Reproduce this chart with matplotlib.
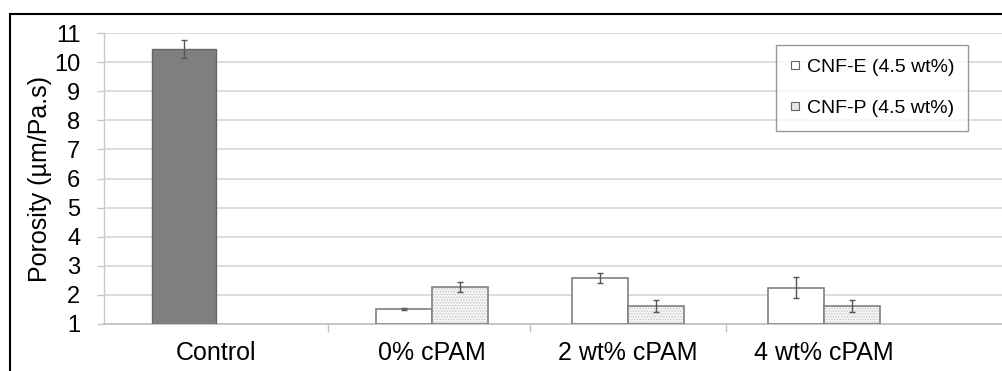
import matplotlib
matplotlib.use("Agg")
import matplotlib.pyplot as plt
from matplotlib.lines import Line2D
import numpy as np

plt.rcParams['font.family'] = ['Liberation Sans', 'DejaVu Sans']

# ---- data ----
categories = ["Control", "0% cPAM", "2 wt% cPAM", "4 wt% cPAM"]
control_value = 10.45
control_err = 0.32
cnf_e = [1.52, 2.59, 2.25]
cnf_e_err = [0.03, 0.17, 0.37]
cnf_p = [2.27, 1.61, 1.61]
cnf_p_err = [0.17, 0.20, 0.20]
series_labels = ["CNF-E (4.5 wt%)", "CNF-P (4.5 wt%)"]
yticks = list(range(1, 12))

# ---- layout ----
fig = plt.figure(figsize=(10.02, 3.71), dpi=100)
ax = fig.add_axes([104/1002, 1-324/371, 1-104/1002, (324-33)/371])

label_pos = [-0.10, 1, 2, 3]
group_pos = np.array([1, 2, 3])
w = 0.286
base = 1.0

ecol = '#808080'
errc = '#555555'

# control bar
ax.bar([-0.265], [control_value - base], bottom=base, width=0.33,
       color='#7f7f7f', edgecolor='#666666', linewidth=1, zorder=3)
ax.errorbar([-0.265], [control_value], yerr=[control_err], fmt='none',
            ecolor=errc, elinewidth=1, capsize=2, capthick=1, zorder=4)

# CNF-E bars
xe = group_pos - w/2
ax.bar(xe, np.array(cnf_e) - base, bottom=base, width=w,
       color='white', edgecolor=ecol, linewidth=1.2, zorder=3)
ax.errorbar(xe, cnf_e, yerr=cnf_e_err, fmt='none',
            ecolor=errc, elinewidth=1, capsize=2, capthick=1, zorder=4)

# CNF-P bars (stippled)
xp = group_pos + w/2
plt.rcParams['hatch.linewidth'] = 0.6
ax.bar(xp, np.array(cnf_p) - base, bottom=base, width=w,
       color='#f4f4f4', edgecolor='#c4c4c4', hatch='......', linewidth=0, zorder=3)
ax.bar(xp, np.array(cnf_p) - base, bottom=base, width=w,
       fill=False, edgecolor=ecol, linewidth=1.2, zorder=3)
ax.errorbar(xp, cnf_p, yerr=cnf_p_err, fmt='none',
            ecolor=errc, elinewidth=1, capsize=2, capthick=1, zorder=4)

# axes styling
ax.set_xlim(-0.673, 3.908)
ax.set_ylim(1, 11)
ax.set_yticks(yticks)
ax.set_yticklabels([str(t) for t in yticks])
ax.set_xticks(label_pos)
ax.set_xticklabels(categories)
ax.set_xticks([0.47, 1.5, 2.5], minor=True)
ax.tick_params(axis='x', which='major', length=0, pad=12, labelsize=18, colors='black')
ax.tick_params(axis='x', which='minor', length=6, width=1, color='#c0c0c0')
ax.tick_params(axis='y', which='major', length=5, width=1, color='#c8c8c8', pad=12,
               labelsize=17)
ax.yaxis.grid(True, color='#d9d9d9', linewidth=1.3, zorder=0)
ax.set_axisbelow(True)
for s in ['top', 'right']:
    ax.spines[s].set_visible(False)
ax.spines['left'].set_color('#c8c8c8')
ax.spines['bottom'].set_color('#c0c0c0')
ax.spines['left'].set_linewidth(1)
ax.spines['bottom'].set_linewidth(1.2)

ax.set_ylabel("Porosity (µm/Pa.s)", fontsize=18)
ax.yaxis.set_label_coords((52-104)/898, 0.5)

# legend
handles = [
    Line2D([0], [0], marker='s', linestyle='none', markersize=6,
           markerfacecolor='white', markeredgecolor='#666666', markeredgewidth=0.8),
    Line2D([0], [0], marker='s', linestyle='none', markersize=6,
           markerfacecolor='#e6e6e6', markeredgecolor='#666666', markeredgewidth=0.8),
]
leg = fig.legend(handles, series_labels, loc='upper left',
                 bbox_to_anchor=(776/1002, 1-45/371), fontsize=14,
                 frameon=True, fancybox=False, edgecolor='#808080',
                 handlelength=0.6, handletextpad=0.3, labelspacing=1.2,
                 borderpad=0.7, borderaxespad=0)
leg.get_frame().set_linewidth(1)

# figure border (top and left)
fig.add_artist(Line2D([10/1002, 1], [1-14/371, 1-14/371], color='black', linewidth=1.5,
                      transform=fig.transFigure))
fig.add_artist(Line2D([10/1002, 10/1002], [0, 1-14/371], color='black', linewidth=1.5,
                      transform=fig.transFigure))

fig.savefig("out.png", dpi=100)
